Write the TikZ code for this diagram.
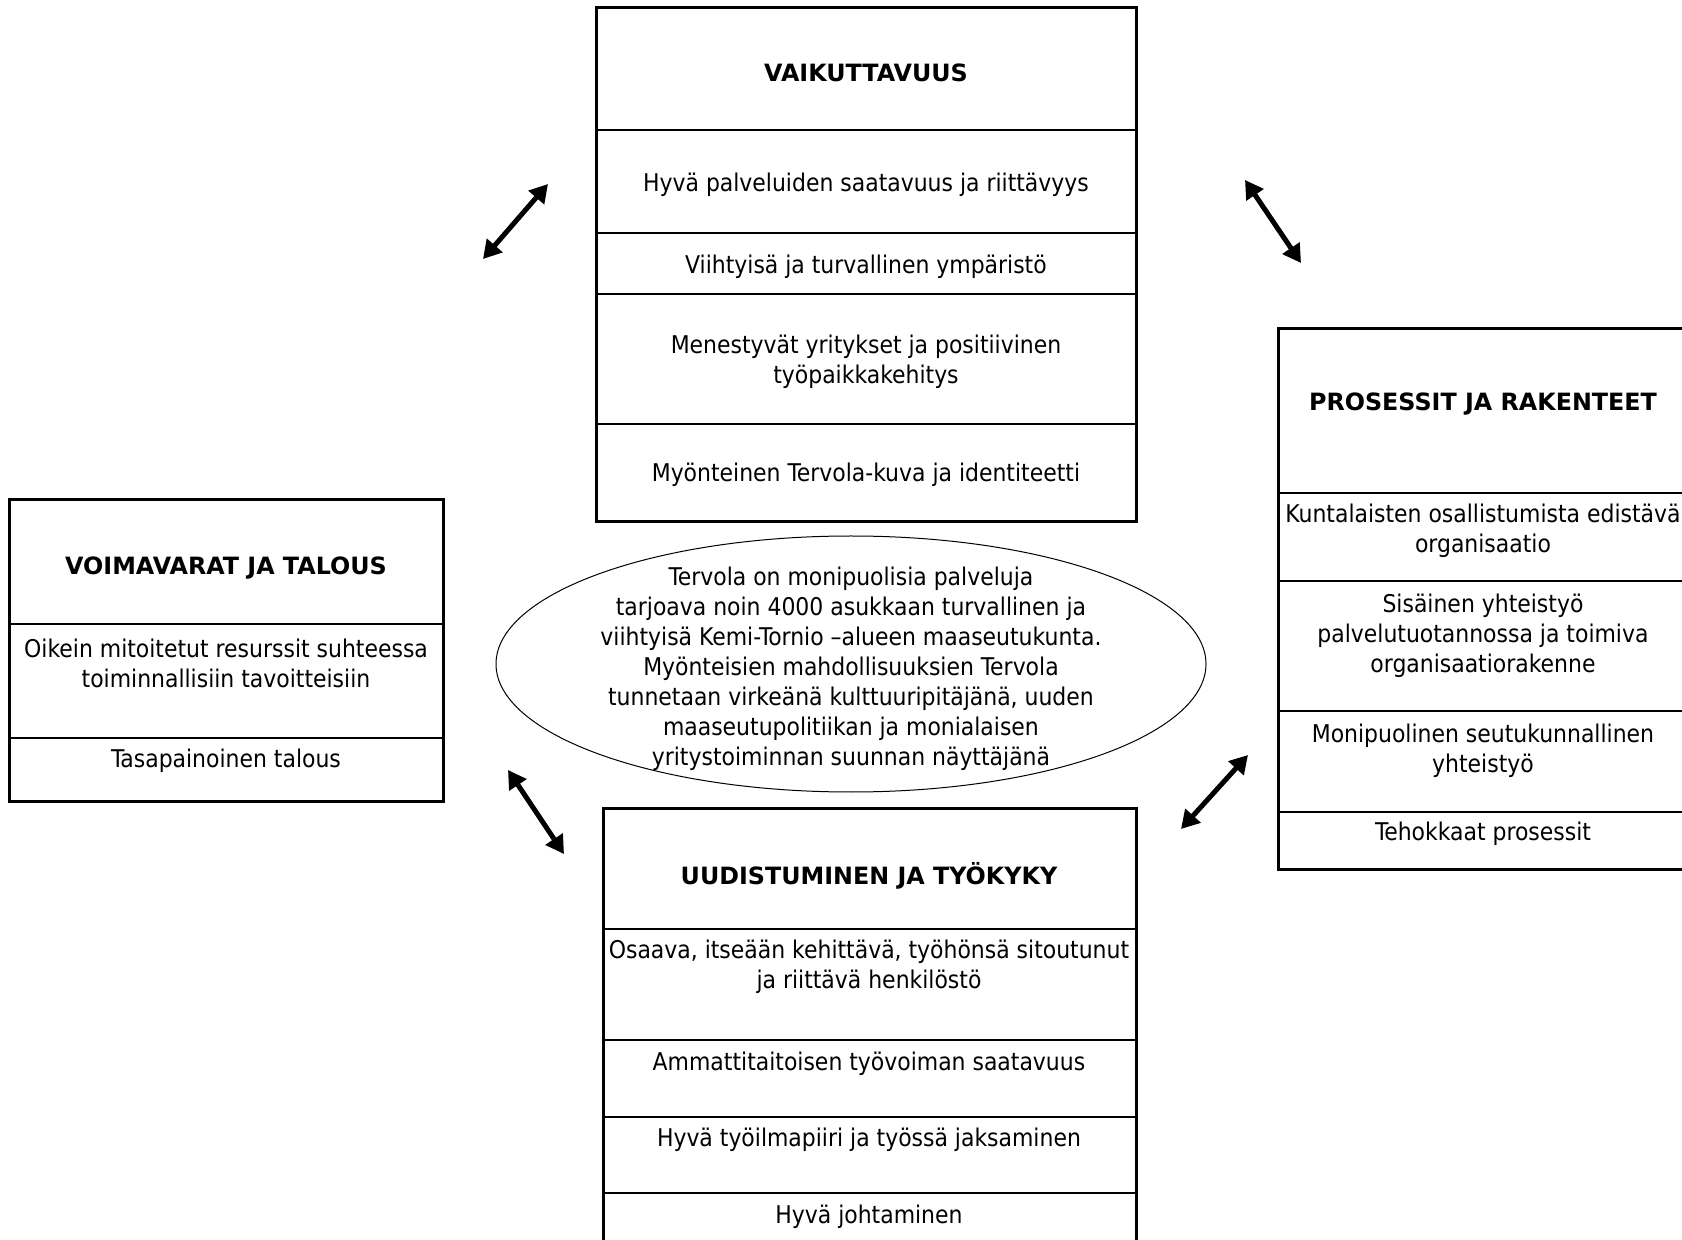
\documentclass[tikz,border=0pt]{standalone}
\usepackage{fontspec}
\setmainfont{DejaVu Sans Condensed}
\newfontfamily\headfont{DejaVu Sans}
\usetikzlibrary{arrows.meta}

\begin{document}
\begin{tikzpicture}[x=0.5pt,y=-0.5pt,
    item/.style ={align=center, inner sep=0pt, yshift=-1.5pt,
      font=\fontsize{12.2}{15}\selectfont},
    title/.style ={item, font=\headfont\fontsize{11.9}{15}\selectfont\bfseries},
    frame/.style ={draw=black, line width=1.5pt},
    divider/.style ={draw=black, line width=0.75pt},
    vision/.style ={draw=black, line width=0.5pt},
    link/.style ={draw, line width=2.5pt, {Triangle[length=9pt,width=10pt]}-{Triangle[length=9pt,width=10pt]}}]
    \useasboundingbox (0,0) rectangle (1682,1240);
    % top box
    \draw[frame] (596,7.5) rectangle (1136,522);
    \foreach \y in {130,233,294,424} \draw[divider] (596,\y) -- (1136,\y);
    \node [title] (effect) at (866,70) {VAIKUTTAVUUS};
    \node [item] (services) at (866,182) {Hyvä palveluiden saatavuus ja riittävyys};
    \node [item] (environment) at (866,264) {Viihtyisä ja turvallinen ympäristö};
    \node [item] (companies) at (866,359) {Menestyvät yritykset ja positiivinen\\työpaikkakehitys};
    \node [item] (image) at (866,472) {Myönteinen Tervola-kuva ja identiteetti};
    % left box
    \draw[frame] (9.7,500) rectangle (443,801);
    \foreach \y in {624,738} \draw[divider] (9.7,\y) -- (443,\y);
    \node [title] (resources) at (226,565) {VOIMAVARAT JA TALOUS};
    \node [item] (dimensioned) at (226,660) {Oikein mitoitetut resurssit suhteessa\\toiminnallisiin tavoitteisiin};
    \node [item] (balanced) at (226,758) {Tasapainoinen talous};
    % right box
    \draw[frame] (1278,329) rectangle (1692,869);
    \foreach \y in {493,581,711,812} \draw[divider] (1278,\y) -- (1692,\y);
    \node [title] (processes) at (1483,401) {PROSESSIT JA RAKENTEET};
    \node [item] (participation) at (1483,528) {Kuntalaisten osallistumista edistävä\\organisaatio};
    \node [item] (internal) at (1483,633) {Sisäinen yhteistyö\\palvelutuotannossa ja toimiva\\organisaatiorakenne};
    \node [item] (regional) at (1483,748) {Monipuolinen seutukunnallinen\\yhteistyö};
    \node [item] (efficient) at (1483,831) {Tehokkaat prosessit};
    % bottom box
    \draw[frame] (603,808) rectangle (1136,1250);
    \foreach \y in {929,1040,1117,1193} \draw[divider] (603,\y) -- (1136,\y);
    \node [title] (renewal) at (869,873) {UUDISTUMINEN JA TYÖKYKY};
    \node [item] (staff) at (869,964) {Osaava, itseään kehittävä, työhönsä sitoutunut\\ja riittävä henkilöstö};
    \node [item] (workforce) at (869,1061) {Ammattitaitoisen työvoiman saatavuus};
    \node [item] (atmosphere) at (869,1137) {Hyvä työilmapiiri ja työssä jaksaminen};
    \node [item] (leadership) at (869,1214) {Hyvä johtaminen};
    % vision in the middle
    \draw[vision] (851,664) ellipse [x radius=177.5pt, y radius=64pt];
    \node [item] (tervola) at (851,666) {Tervola on monipuolisia palveluja\\tarjoava noin 4000 asukkaan turvallinen ja\\viihtyisä Kemi-Tornio –alueen maaseutukunta.\\Myönteisien mahdollisuuksien Tervola\\tunnetaan virkeänä kulttuuripitäjänä, uuden\\maaseutupolitiikan ja monialaisen\\yritystoiminnan suunnan näyttäjänä};
    % arrow ends
    \coordinate (tl_a) at (483,259);
    \coordinate (tl_b) at (548,184);
    \coordinate (tr_a) at (1245,180);
    \coordinate (tr_b) at (1301,263);
    \coordinate (bl_a) at (508,770);
    \coordinate (bl_b) at (564,854);
    \coordinate (br_a) at (1181,829);
    \coordinate (br_b) at (1248,755);
    \begin{scope}[every path/.style=link]
      \path (tl_a) -- (tl_b);
      \path (tr_a) -- (tr_b);
      \path (bl_a) -- (bl_b);
      \path (br_a) -- (br_b);
    \end{scope}
\end{tikzpicture}
\end{document}
